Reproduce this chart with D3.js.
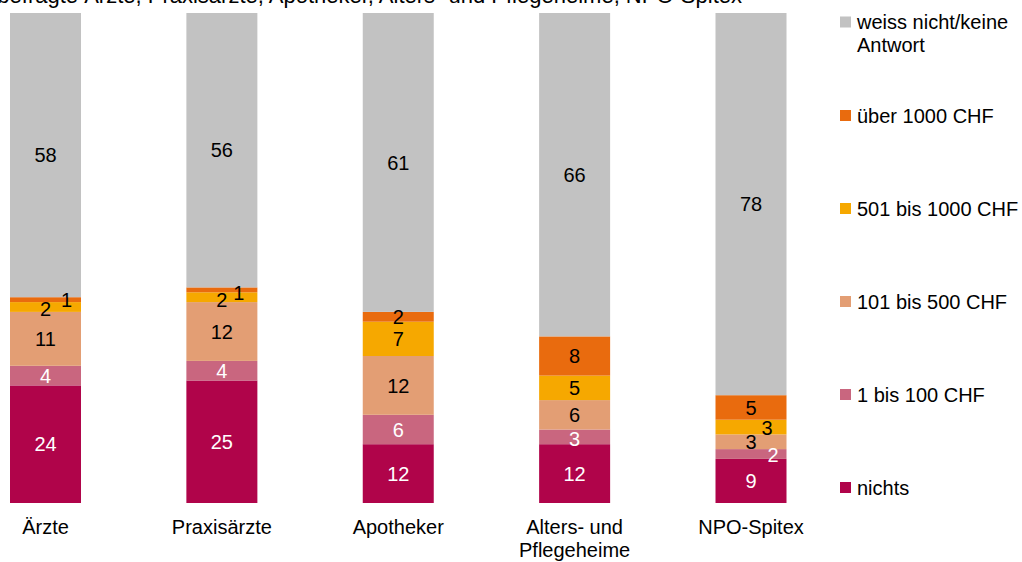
<!DOCTYPE html>
<html><head><meta charset="utf-8">
<script src="https://cdn.jsdelivr.net/npm/d3@7"></script>
<style>html,body{margin:0;padding:0;background:#fff;}svg{display:block;font-family:"Liberation Sans",Arial,sans-serif;}</style>
</head><body>
<svg id="c" width="1022" height="562"></svg>
<script>
const categories = ["Ärzte", "Praxisärzte", "Apotheker", "Alters- und\nPflegeheime", "NPO-Spitex"];
const seriesNames = ["nichts", "1 bis 100 CHF", "101 bis 500 CHF", "501 bis 1000 CHF", "über 1000 CHF", "weiss nicht/keine\nAntwort"];
const nichts    = [24, 25, 12, 12, 9];
const bis100    = [4, 4, 6, 3, 2];
const bis500    = [11, 12, 12, 6, 3];
const bis1000   = [2, 2, 7, 5, 3];
const ueber1000 = [1, 1, 2, 8, 5];
const weissNicht= [58, 56, 61, 66, 78];
const titleText = "befragte Ärzte, Praxisärzte, Apotheker, Alters- und Pflegeheime, NPO-Spitex";

const colors = ["#b0044a", "#c9667f", "#e39e74", "#f6a800", "#e96b0e", "#c2c2c2"];
const labelColors = ["#fff", "#fff", "#000", "#000", "#000", "#000"];
// label nudges for thin segments: key "catIndex-seriesIndex"
const nudges = {"0-3": [0, 2], "0-4": [21, 0], "1-3": [0, 3], "1-4": [17, 3],
                "3-1": [0, 2], "4-1": [22, 1], "4-3": [16, 1]};

const seriesValues = [nichts, bis100, bis500, bis1000, ueber1000, weissNicht];
const rows = categories.map((c, i) => {
  const r = {cat: c};
  seriesNames.forEach((s, j) => r[s] = seriesValues[j][i]);
  return r;
});
const stack = d3.stack().keys(seriesNames)(rows);

const svg = d3.select("#c");
const x = d3.scalePoint().domain(categories).range([45.5, 751]).padding(0);
const y = d3.scaleLinear().domain([0, 100]).range([503, 13]);

// title (cut off at top in the reference)
svg.append("text").attr("x", 742).attr("y", 3).attr("text-anchor", "end")
  .attr("font-size", 22).attr("fill", "#000").text(titleText);

const bw = 71;
const cx = c => x(c);

stack.forEach((layer, j) => {
  svg.append("g").selectAll("rect").data(layer).enter().append("rect")
    .attr("x", d => cx(d.data.cat) - bw / 2)
    .attr("width", bw)
    .attr("y", d => y(d[1]))
    .attr("height", d => y(d[0]) - y(d[1]))
    .attr("fill", colors[j]);
});
stack.forEach((layer, j) => {
  svg.append("g").selectAll("text").data(layer).enter().append("text")
    .attr("x", (d, i) => cx(d.data.cat) + ((nudges[i + "-" + j] || [0, 0])[0]))
    .attr("y", (d, i) => (y(d[0]) + y(d[1])) / 2 + ((nudges[i + "-" + j] || [0, 0])[1]))
    .attr("dy", "0.36em")
    .attr("text-anchor", "middle")
    .attr("font-size", 20)
    .attr("fill", labelColors[j])
    .text(d => d[1] - d[0]);
});

// category labels
const xl = svg.append("g");
categories.forEach(c => {
  const t = xl.append("text").attr("text-anchor", "middle").attr("font-size", 20).attr("fill", "#000");
  c.split("\n").forEach((line, k) => {
    t.append("tspan").attr("x", cx(c)).attr("y", 534 + k * 23).text(line);
  });
});

// legend
const leg = svg.append("g");
const legendY = [487.5, 394.5, 301.5, 208.5, 115.5, 22];
seriesNames.forEach((s, j) => {
  const yy = legendY[j];
  leg.append("rect").attr("x", 840).attr("y", yy - 5.5).attr("width", 11).attr("height", 11).attr("fill", colors[j]);
  const t = leg.append("text").attr("font-size", 20).attr("fill", "#000");
  s.split("\n").forEach((line, k) => {
    t.append("tspan").attr("x", 857).attr("y", yy + 7 + k * 23).text(line);
  });
});
</script>
</body></html>
